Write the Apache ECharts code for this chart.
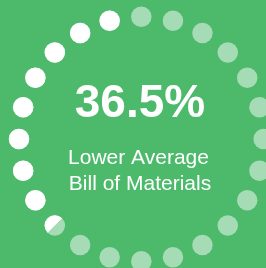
<!DOCTYPE html>
<html>
<head>
<meta charset="utf-8">
<script src="https://cdn.jsdelivr.net/npm/echarts@6/dist/echarts.min.js"></script>
<style>
  html, body { margin: 0; padding: 0; background: #4cb96b; }
  #chart { width: 266px; height: 268px; }
</style>
</head>
<body>
<div id="chart"></div>
<script>
// 24 dots round the ring, index 0 at the top, going counter-clockwise
const dotIndex = [0, 1, 2, 3, 4, 5, 6, 7, 8, 9, 10, 11, 12, 13, 14, 15, 16, 17, 18, 19, 20, 21, 22, 23]
// how much of each dot is filled white
const dotFill = [0, 1, 1, 1, 1, 1, 1, 1, 1, 0.5, 0, 0, 0, 0, 0, 0, 0, 0, 0, 0, 0, 0, 0, 0]
const percentLabel = '36.5%'
const captionLines = ['Lower Average', 'Bill of Materials']

const chart = echarts.init(document.getElementById('chart'))

const dotSize = 20.5
const fullDots = dotIndex.filter((i) => dotFill[i] === 1).map((i) => [1, i])
const partDots = dotIndex.filter((i) => dotFill[i] > 0 && dotFill[i] < 1).map((i) => [1, i, dotFill[i]])

chart.setOption({
  backgroundColor: '#4cb96b',
  animation: false,
  polar: {
    center: [141.3, 139],
    radius: 122.3,
  },
  angleAxis: {
    type: 'value',
    min: 0,
    max: dotIndex.length,
    startAngle: 90,
    clockwise: false,
    show: false,
  },
  radiusAxis: {
    type: 'value',
    min: 0,
    max: 1,
    show: false,
  },
  series: [
    {
      // pale track of every dot
      type: 'scatter',
      coordinateSystem: 'polar',
      symbolSize: dotSize,
      silent: true,
      itemStyle: { color: '#ffffff', opacity: 0.5 },
      data: dotIndex.map((i) => [1, i]),
    },
    {
      type: 'scatter',
      coordinateSystem: 'polar',
      symbolSize: dotSize,
      silent: true,
      itemStyle: { color: '#ffffff', opacity: 1 },
      data: fullDots,
    },
    {
      // partly filled dot, split along the radius
      type: 'custom',
      coordinateSystem: 'polar',
      silent: true,
      data: partDots,
      renderItem: (params, api) => {
        const p = api.coord([api.value(0), api.value(1)])
        const c = api.coord([0, api.value(1)])
        const out = Math.atan2(p[1] - c[1], p[0] - c[0])
        return {
          type: 'sector',
          shape: {
            cx: p[0],
            cy: p[1],
            r0: 0,
            r: dotSize / 2,
            startAngle: out,
            endAngle: out + api.value(2) * Math.PI * 2,
            clockwise: true,
          },
          style: { fill: '#ffffff', opacity: 1 },
        }
      },
    },
  ],
  graphic: [
    {
      type: 'text',
      x: 140,
      y: 104,
      style: {
        text: percentLabel,
        font: 'bold 46px "Liberation Sans", Arial, sans-serif',
        fill: '#ffffff',
        align: 'center',
        verticalAlign: 'middle',
        textAlign: 'center',
        textVerticalAlign: 'middle',
      },
    },
    {
      type: 'text',
      x: 138.5,
      y: 158,
      style: {
        text: captionLines[0],
        font: '21px "Liberation Sans", Arial, sans-serif',
        fill: '#ffffff',
        align: 'center',
        verticalAlign: 'middle',
        textAlign: 'center',
        textVerticalAlign: 'middle',
      },
    },
    {
      type: 'text',
      x: 140,
      y: 184,
      style: {
        text: captionLines[1],
        font: '21px "Liberation Sans", Arial, sans-serif',
        fill: '#ffffff',
        align: 'center',
        verticalAlign: 'middle',
        textAlign: 'center',
        textVerticalAlign: 'middle',
      },
    },
  ],
})
</script>
</body>
</html>
